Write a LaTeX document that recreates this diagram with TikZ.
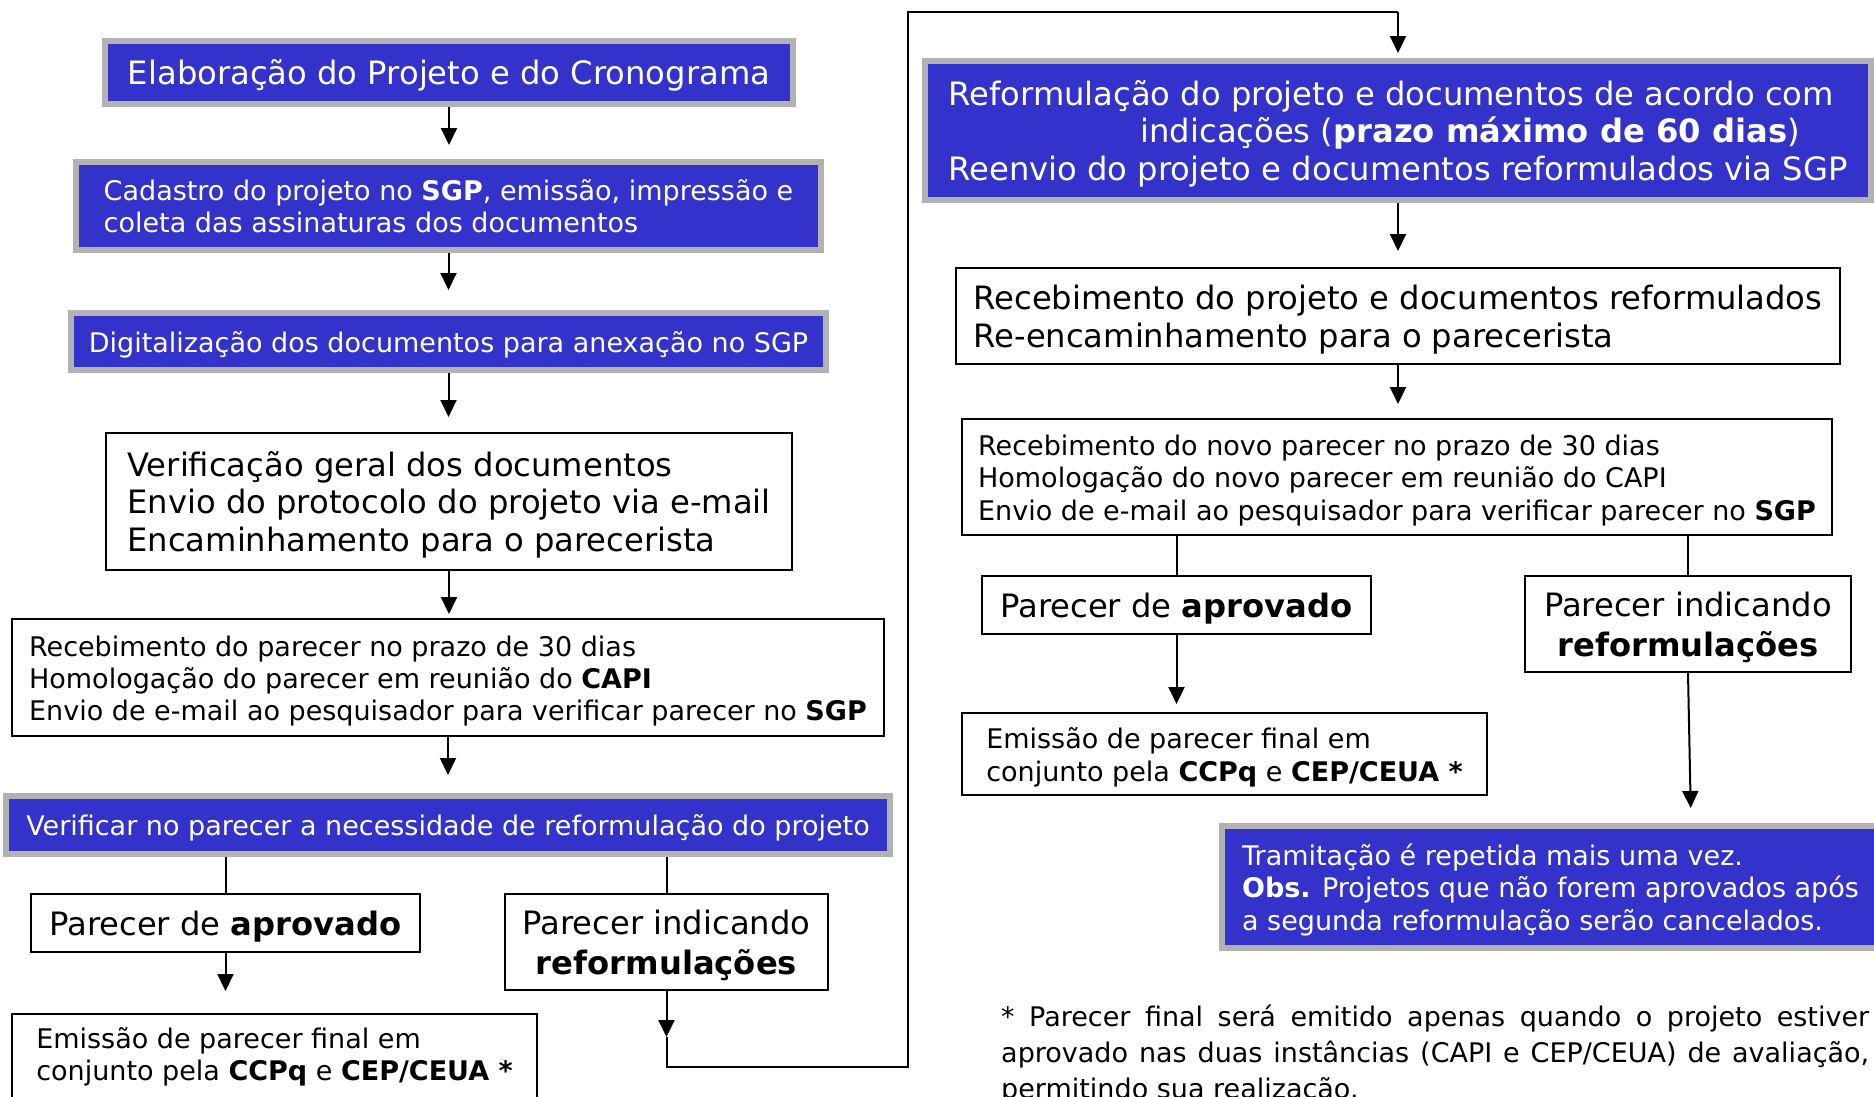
\documentclass[tikz,border=0pt]{standalone}
\usepackage{fontspec}
\setmainfont{DejaVu Sans}
\usetikzlibrary{arrows.meta,calc}
\definecolor{boxblue}{RGB}{51,51,204}
\definecolor{boxgray}{RGB}{178,178,178}
\newcommand{\fbig}{\fontsize{32.2}{37.8}\selectfont}
\newcommand{\fmed}{\fontsize{27}{32.2}\selectfont}
\newcommand{\fhead}{\fontsize{32.2}{39.4}\selectfont}
\newcommand{\ffoot}{\fontsize{27}{36}\selectfont}
\newcommand{\up}{\rule{0pt}{\dimexpr0.76em+7pt\relax}}
\tikzset{
  bluebox/.style={draw=boxgray, line width=6pt, fill=boxblue, text=white, inner sep=0pt, align=left},
  whitebox/.style={draw=black, line width=2pt, fill=white, text=black, inner sep=0pt, align=left},
  conn/.style={draw=black, line width=2pt},
  arr/.style={conn, -{Triangle[length=17pt,width=16pt]}}
}
\begin{document}
\begin{tikzpicture}[x=1pt,y=-1pt]
\useasboundingbox (0,0) rectangle (1874,1096);
\fill[white] (0,0) rectangle (1874,1096);
\clip (0,0) rectangle (1874,1096);

% left column
\node[bluebox, minimum width=688pt, minimum height=63pt, font=\fbig] (b1) at (449,72.5)
  {\up Elaboração do Projeto e do Cronograma};
\node[bluebox, minimum width=745pt, minimum height=88pt, font=\fmed] (b2) at (448.5,206)
  {Cadastro do projeto no \textbf{SGP}, emissão, impressão e\\coleta das assinaturas dos documentos};
\node[bluebox, minimum width=755pt, minimum height=57pt, font=\fmed] (b3) at (448.5,341.5)
  {\up Digitalização dos documentos para anexação no SGP};
\node[whitebox, minimum width=686pt, minimum height=137pt, font=\fbig] (b4) at (449,501.5)
  {\up Verificação geral dos documentos\\Envio do protocolo do projeto via e-mail\\Encaminhamento para o parecerista};
\node[whitebox, minimum width=872pt, minimum height=117pt, font=\fmed] (b5) at (448,677.5)
  {\up Recebimento do parecer no prazo de 30 dias\\Homologação do parecer em reunião do \textbf{CAPI}\\Envio de e-mail ao pesquisador para verificar parecer no \textbf{SGP}};
\node[bluebox, minimum width=884pt, minimum height=58pt, font=\fmed] (b6) at (448,825)
  {\up Verificar no parecer a necessidade de reformulação do projeto};
\node[whitebox, minimum width=389pt, minimum height=58pt, font=\fhead] (b7) at (225.5,923)
  {\up Parecer de \textbf{aprovado}};
\node[whitebox, minimum width=323pt, minimum height=96pt, font=\fhead, align=center] (b8) at (666.5,942)
  {\up Parecer indicando\\\textbf{reformulações}};
\node[whitebox, minimum width=525pt, minimum height=86pt, font=\fmed] (b9) at (274.5,1057)
  {Emissão de parecer final em\\conjunto pela \textbf{CCPq} e \textbf{CEP/CEUA *}};

% right column
\node[bluebox, minimum width=946pt, minimum height=139pt, font=\fbig] (b10) at (1398,130.5)
  {\up Reformulação do projeto e documentos de acordo com\\\hspace*{192pt}indicações (\textbf{prazo máximo de 60 dias})\\Reenvio do projeto e documentos reformulados via SGP};
\node[whitebox, minimum width=884pt, minimum height=96pt, font=\fbig] (b11) at (1398,316)
  {\up Recebimento do projeto e documentos reformulados\\Re-encaminhamento para o parecerista};
\node[whitebox, minimum width=870pt, minimum height=116pt, font=\fmed] (b12) at (1397,477)
  {\up Recebimento do novo parecer no prazo de 30 dias\\Homologação do novo parecer em reunião do CAPI\\Envio de e-mail ao pesquisador para verificar parecer no \textbf{SGP}};
\node[whitebox, minimum width=389pt, minimum height=58pt, font=\fhead] (b13) at (1176.5,605)
  {\up Parecer de \textbf{aprovado}};
\node[whitebox, minimum width=326pt, minimum height=96pt, font=\fhead, align=center] (b14) at (1688,624)
  {\up Parecer indicando\\\textbf{reformulações}};
\node[whitebox, minimum width=525pt, minimum height=82pt, font=\fmed] (b15) at (1224.5,754)
  {\up Emissão de parecer final em\\conjunto pela \textbf{CCPq} e \textbf{CEP/CEUA *}};
\node[bluebox, minimum width=657pt, minimum height=122pt, font=\fmed] (b16) at (1550.5,887)
  {\up Tramitação é repetida mais uma vez.\\\textbf{Obs.} Projetos que não forem aprovados após\\a segunda reformulação serão cancelados.};

% footnote
\node[anchor=north west, inner sep=0pt, align=left, font=\ffoot] (fn) at (1001,1005)
  {\makebox[868pt][s]{* Parecer final será emitido apenas quando o projeto estiver}\\
   \makebox[868pt][s]{aprovado nas duas instâncias (CAPI e CEP/CEUA) de avaliação,}\\
   permitindo sua realização.};

% connectors left
\draw[arr, shorten >=14pt] (b1.south) -- (b1.south |- b2.north);
\draw[arr, shorten >=20pt] (b2.south) -- (b2.south |- b3.north);
\draw[arr, shorten >=15pt] (b3.south) -- (b3.south |- b4.north);
\draw[arr, shorten >=4pt] (b4.south) -- (b4.south |- b5.north);
\draw[arr, shorten >=18pt] (b5.south) -- (b5.south |- b6.north);
\draw[conn] (b7.north |- b6.south) -- (b7.north);
\draw[conn] (b8.north |- b6.south) -- (b8.north);
\draw[arr, shorten >=22pt] (b7.south) -- (b7.south |- b9.north);

% feedback loop
\coordinate (m1) at (666.5,1037);
\coordinate (c1) at (666.5,1067);
\coordinate (c2) at (908,1067);
\coordinate (c3) at (908,12);
\coordinate (c4) at (1398,12);
\draw[arr] (b8.south) -- (m1);
\draw[conn] (m1) -- (c1) -- (c2) -- (c3) -- (c4);
\draw[arr, shorten >=5pt] (c4) -- (b10.north);

% connectors right
\draw[arr, shorten >=16pt] (b10.south) -- (b10.south |- b11.north);
\draw[arr, shorten >=14pt] (b11.south) -- (b11.south |- b12.north);
\draw[conn] (b13.north |- b12.south) -- (b13.north);
\draw[conn] (b14.north |- b12.south) -- (b14.north);
\draw[arr, shorten >=8pt] (b13.south) -- (b13.south |- b15.north);
\draw[arr, shorten >=15pt] (b14.south) -- ($(b14.south |- b16.north)+(3,0)$);
\end{tikzpicture}
\end{document}
